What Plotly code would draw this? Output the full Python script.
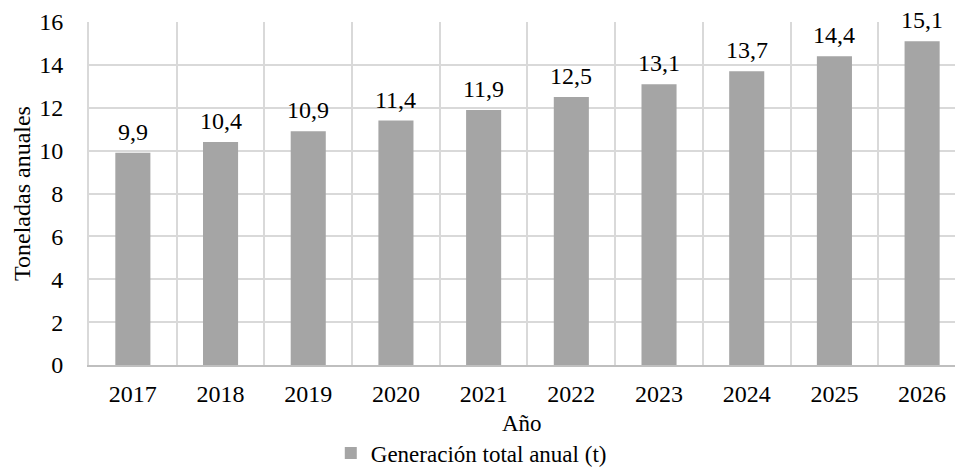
import plotly.graph_objects as go

# Generación anual proyectada
years = ["2017", "2018", "2019", "2020", "2021", "2022", "2023", "2024", "2025", "2026"]
tonnes = [9.9, 10.4, 10.9, 11.4, 11.9, 12.5, 13.1, 13.7, 14.4, 15.1]
y_ticks = [0, 2, 4, 6, 8, 10, 12, 14, 16]

FONT = "Liberation Serif, Times New Roman, serif"
BAR = "#a5a5a5"
GRID = "#d9d9d9"
FS = 24

fig = go.Figure()
fig.add_trace(go.Bar(
    x=years,
    y=tonnes,
    name="Generación total anual (t)",
    marker=dict(color=BAR, line=dict(width=0)),
))

# value labels above each bar, comma decimal separator
# (category axes place annotations by category index)
for i, v in enumerate(tonnes):
    fig.add_annotation(
        x=i, y=v, text=f"{v:.1f}".replace(".", ","),
        showarrow=False, yanchor="bottom", yshift=6,
        font=dict(family=FONT, size=FS, color="#000000"),
    )

# x-axis title
fig.add_annotation(
    xref="paper", yref="paper", x=0.5, y=-0.172, yanchor="middle",
    text="Año", showarrow=False,
    font=dict(family=FONT, size=23, color="#000000"),
)

fig.update_layout(
    width=955, height=467,
    margin=dict(l=89, r=0, t=22, b=102, autoexpand=False),
    paper_bgcolor="white", plot_bgcolor="white",
    font=dict(family=FONT, size=FS, color="#000000"),
    bargap=0.6,
    showlegend=True,
    legend=dict(
        orientation="h",
        xref="container", x=0.4935, xanchor="center",
        yref="container", y=1 - 453 / 467, yanchor="middle",
        font=dict(family=FONT, size=23, color="#000000"),
        itemwidth=30,
    ),
    xaxis=dict(
        type="category",
        range=[-0.5, 9.375],
        tickson="boundaries",
        showgrid=True, gridcolor=GRID, gridwidth=2,
        showline=True, linecolor="#bfbfbf", linewidth=2,
        ticks="", ticklabelstandoff=6, tickfont=dict(size=FS),
    ),
    yaxis=dict(
        range=[0, 16],
        tickvals=y_ticks,
        showgrid=True, gridcolor=GRID, gridwidth=2,
        showline=True, linecolor=GRID, linewidth=2,
        zeroline=False,
        ticks="", ticklabelstandoff=19, tickfont=dict(size=FS),
        title=dict(text="Toneladas anuales", font=dict(size=FS), standoff=2),
    ),
)

fig.write_html("out.html")
